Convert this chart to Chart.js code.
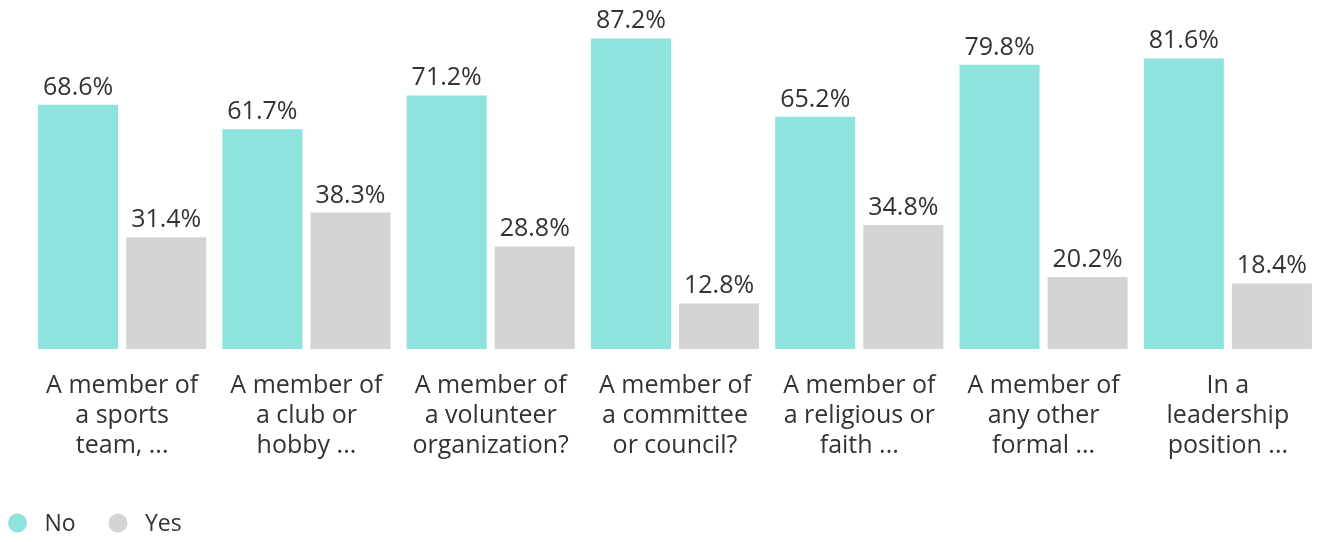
<!DOCTYPE html>
<html>
<head>
<meta charset="utf-8">
<script src="https://cdn.jsdelivr.net/npm/chart.js@4"></script>
<style>
  html, body { margin: 0; padding: 0; background: #fff; overflow: hidden; }
  #wrap { width: 1320px; height: 542px; }
</style>
</head>
<body>
<div id="wrap"><canvas id="groupChart"></canvas></div>
<script>
// chart data
var categories = [
    ['A member of', 'a sports', 'team, ...'],
    ['A member of', 'a club or', 'hobby ...'],
    ['A member of', 'a volunteer', 'organization?'],
    ['A member of', 'a committee', 'or council?'],
    ['A member of', 'a religious or', 'faith ...'],
    ['A member of', 'any other', 'formal ...'],
    ['In a', 'leadership', 'position ...']
];
var noValues = [68.6, 61.7, 71.2, 87.2, 65.2, 79.8, 81.6];
var yesValues = [31.4, 38.3, 28.8, 12.8, 34.8, 20.2, 18.4];
var seriesNames = ['No', 'Yes'];

var FONT = "'Open Sans', 'Noto Sans', sans-serif";
var TEXT = '#333333';

// value labels above each bar
var valueLabels = {
    id: 'valueLabels',
    afterDatasetsDraw: function (chart) {
        var ctx = chart.ctx;
        ctx.save();
        ctx.font = '25px ' + FONT;
        ctx.fillStyle = TEXT;
        ctx.textAlign = 'center';
        ctx.textBaseline = 'alphabetic';
        chart.data.datasets.forEach(function (ds, i) {
            chart.getDatasetMeta(i).data.forEach(function (bar, j) {
                ctx.fillText(ds.data[j].toFixed(1) + '%', bar.x, bar.y - 10);
            });
        });
        ctx.restore();
    }
};

// simple legend in the bottom left corner
var bottomLegend = {
    id: 'bottomLegend',
    afterDraw: function (chart) {
        var ctx = chart.ctx;
        var x = 17.5, y = 523;
        ctx.save();
        ctx.font = '23px ' + FONT;
        ctx.textBaseline = 'middle';
        chart.data.datasets.forEach(function (ds) {
            ctx.fillStyle = ds.backgroundColor;
            ctx.beginPath();
            ctx.arc(x, y, 9.5, 0, Math.PI * 2);
            ctx.fill();
            ctx.fillStyle = TEXT;
            ctx.fillText(ds.label, x + 27, y + 1);
            x += 100.5;
        });
        ctx.restore();
    }
};

var ctx = document.getElementById('groupChart').getContext('2d');
new Chart(ctx, {
    type: 'bar',
    data: {
        labels: categories,
        datasets: [{
            label: seriesNames[0],
            data: noValues,
            backgroundColor: '#8ee3dd'
        }, {
            label: seriesNames[1],
            data: yesValues,
            backgroundColor: '#d4d4d4'
        }]
    },
    options: {
        responsive: true,
        maintainAspectRatio: false,
        animation: false,
        categoryPercentage: 0.956,
        barPercentage: 0.909,
        layout: {
            padding: { left: 30, right: 0, top: 0, bottom: 59 }
        },
        plugins: {
            legend: { display: false },
            tooltip: { enabled: false }
        },
        scales: {
            x: {
                grid: { display: false, drawTicks: false },
                border: { display: false },
                ticks: {
                    padding: 22,
                    color: TEXT,
                    maxRotation: 0,
                    autoSkip: false,
                    font: { family: FONT, size: 25, lineHeight: 1.2 }
                }
            },
            y: {
                display: false,
                min: 0,
                max: 98
            }
        }
    },
    plugins: [valueLabels, bottomLegend]
});
</script>
</body>
</html>
